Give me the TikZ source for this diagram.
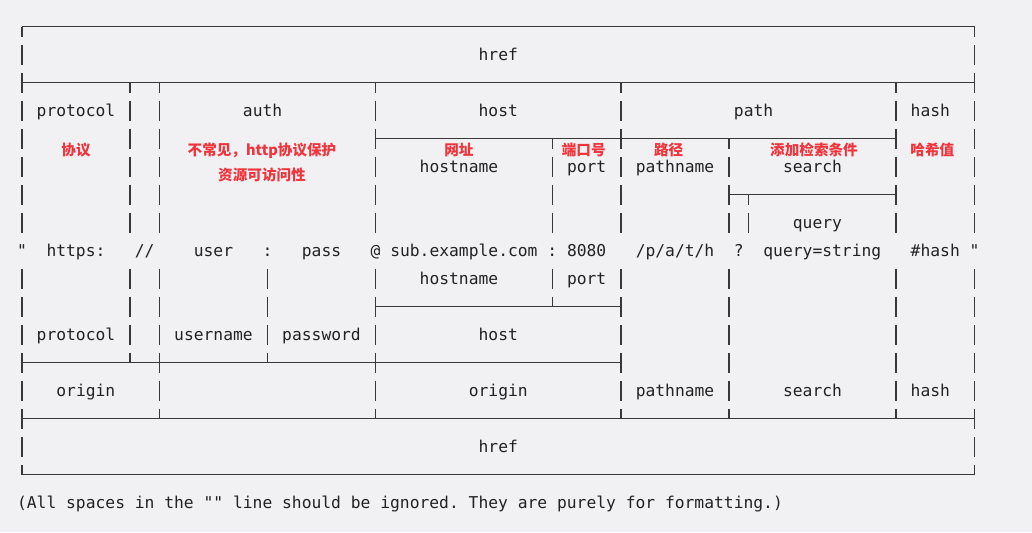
\documentclass[tikz,border=0pt]{standalone}
\usepackage{fontspec}
\setmonofont{DejaVu Sans Mono}
\newfontfamily\cjk{Noto Sans CJK SC}
\definecolor{paper}{RGB}{241,240,243}
\definecolor{ink}{RGB}{34,34,34}
\definecolor{note}{RGB}{240,52,60}
\frenchspacing
\begin{document}
\begin{tikzpicture}[x=0.1964cm,y=-0.56cm,
  txt/.style={anchor=base west,inner sep=0pt,outer sep=0pt,text=ink,
    font=\fontsize{9.28}{11}\selectfont\ttfamily},
  cn/.style={inner sep=0pt,text=note,align=center,
    font=\fontsize{8.3}{14.2}\selectfont\cjk\bfseries},
  rule/.style={draw=ink!90,line width=0.7pt},
  col/.style={rule,dash pattern=on 0.4cm off 0.16cm,dash phase=0.2cm},
  colfree/.style={rule,dash pattern=on 0.4cm off 0.16cm},
  ]
\fill[paper] (-2.240,-0.954) rectangle (102.851,18.046);
\useasboundingbox (-2.240,-0.954) rectangle (102.851,18.046);

\foreach \r/\a/\b in {0/0/97,2/0/97,4/36/89,6/72/89,10/36/61,12/0/61,14/0/97,16/0/97}
  \draw[rule] (\a,\r) -- (\b,\r);

\foreach \c/\a in {0/0,11/2,14/2,36/2,54/4,61/2,72/4,74/6,89/2,97/0}
  \draw[col] (\c,\a) -- (\c,7.357);
\foreach \c/\b in {0/16,11/12,14/14,25/12,36/14,54/10,61/14,72/14,89/14,97/16}
  \draw[colfree] (\c,8.643) -- (\c,\b);

\foreach \r/\c/\t in {1/47/href,3/2/protocol,3/23/auth,3/47/host,3/73/path,3/91/hash,
  5/41/hostname,5/56/port,5/63/pathname,5/78/search,7/79/query,
  8/0/",8/3/https:,8/12/{//},8/18/user,8/25/:,8/29/pass,8/36/@,8/38/sub.example.com,
  8/54/:,8/56/8080,8/63/{/p/a/t/h},8/73/?,8/76/query=string,8/91/\#hash,8/97/",
  9/41/hostname,9/56/port,11/2/protocol,11/16/username,11/27/password,11/47/host,
  13/4/origin,13/46/origin,13/63/pathname,13/78/search,13/91/hash,15/47/href}
  \node[txt] (w-\r-\c) at (\c-0.5,\r+0.21) {\t};
\node[txt] (remark) at (-0.5,17.21) {(All spaces in the "" line should be ignored. They are purely for formatting.)};

\node[cn] (n-protocol) at (5.5,4.39) {协议};
\node[cn] (n-auth) at (24.44,4.84) {不常见，http协议保护\\资源可访问性};
\node[cn] (n-hostname) at (44.5,4.39) {网址};
\node[cn] (n-port) at (57.2,4.39) {端口号};
\node[cn] (n-pathname) at (65.85,4.39) {路径};
\node[cn] (n-search) at (80.65,4.39) {添加检索条件};
\node[cn] (n-hash) at (92.7,4.39) {哈希值};
\end{tikzpicture}
\end{document}
